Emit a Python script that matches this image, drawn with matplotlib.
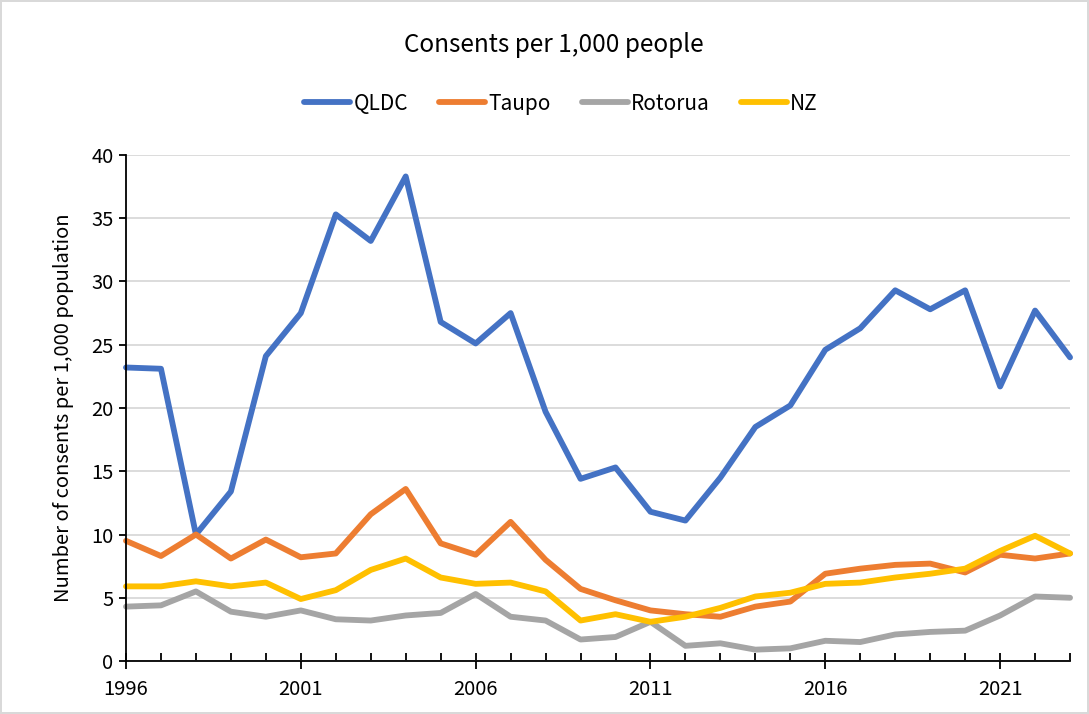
#!/usr/bin/env python3

import numpy as np
import matplotlib
matplotlib.use("Agg")
import matplotlib.pyplot as plt
from matplotlib.ticker import MultipleLocator

years = np.arange(1996, 2024)

qldc = [23.2, 23.1, 10.0, 13.4, 24.1, 27.5, 35.3, 33.2, 38.3, 26.8,
        25.1, 27.5, 19.7, 14.4, 15.3, 11.8, 11.1, 14.5, 18.5, 20.2,
        24.6, 26.3, 29.3, 27.8, 29.3, 21.7, 27.7, 24.0]
taupo = [9.5, 8.3, 10.0, 8.1, 9.6, 8.2, 8.5, 11.6, 13.6, 9.3,
         8.4, 11.0, 8.0, 5.7, 4.8, 4.0, 3.7, 3.5, 4.3, 4.7,
         6.9, 7.3, 7.6, 7.7, 7.0, 8.4, 8.1, 8.5]
rotorua = [4.3, 4.4, 5.5, 3.9, 3.5, 4.0, 3.3, 3.2, 3.6, 3.8,
           5.3, 3.5, 3.2, 1.7, 1.9, 3.1, 1.2, 1.4, 0.9, 1.0,
           1.6, 1.5, 2.1, 2.3, 2.4, 3.6, 5.1, 5.0]
nz = [5.9, 5.9, 6.3, 5.9, 6.2, 4.9, 5.6, 7.2, 8.1, 6.6,
      6.1, 6.2, 5.5, 3.2, 3.7, 3.1, 3.5, 4.2, 5.1, 5.4,
      6.1, 6.2, 6.6, 6.9, 7.3, 8.7, 9.9, 8.5]
year_ticks = [1996, 2001, 2006, 2011, 2016, 2021]

series = [("QLDC", qldc, "#4472C4"),
          ("Taupo", taupo, "#ED7D31"),
          ("Rotorua", rotorua, "#A5A5A5"),
          ("NZ", nz, "#FFC000")]


def main():
    plt.rcParams["font.family"] = ["Noto Sans CJK KR", "DejaVu Sans"]
    fig = plt.figure(figsize=(10.89, 7.14), dpi=100)
    fig.patch.set_edgecolor("#d9d9d9")
    fig.patch.set_linewidth(1.5)
    ax = fig.add_axes([0.1157, 0.0742, 0.8669, 0.7088])

    for name, vals, col in series:
        ax.plot(years, vals, color=col, lw=4.2, label=name, clip_on=False,
                solid_capstyle="round", solid_joinstyle="round")

    ax.set_xlim(1996, 2023)
    ax.set_ylim(0, 40)
    ax.set_xticks(year_ticks)
    ax.xaxis.set_minor_locator(MultipleLocator(1))
    ax.yaxis.set_major_locator(MultipleLocator(5))
    ax.grid(axis="y", color="#d9d9d9", lw=1.3)
    ax.set_axisbelow(True)

    for s in ("top", "right"):
        ax.spines[s].set_visible(False)
    for s in ("left", "bottom"):
        ax.spines[s].set_color("black")
        ax.spines[s].set_linewidth(1.3)

    ax.tick_params(axis="x", which="major", direction="inout", length=12,
                   width=1.3, labelsize=14.5, pad=7)
    ax.tick_params(axis="x", which="minor", direction="in", length=6,
                   width=1.3)
    ax.tick_params(axis="y", direction="out", length=5, width=1.3,
                   labelsize=14.5, pad=4)
    ax.set_ylabel("Number of consents per 1,000 population", fontsize=14.5,
                  labelpad=12)

    fig.text(0.5085, 0.937, "Consents per 1,000 people", ha="center",
             va="center", fontsize=17.5)
    fig.legend(loc="center", bbox_to_anchor=(0.515, 0.855), ncol=4,
               frameon=False, fontsize=15, handlelength=2.2,
               handletextpad=0.15, columnspacing=1.5)

    fig.savefig("out.png", dpi=100)


if __name__ == "__main__":
    main()
